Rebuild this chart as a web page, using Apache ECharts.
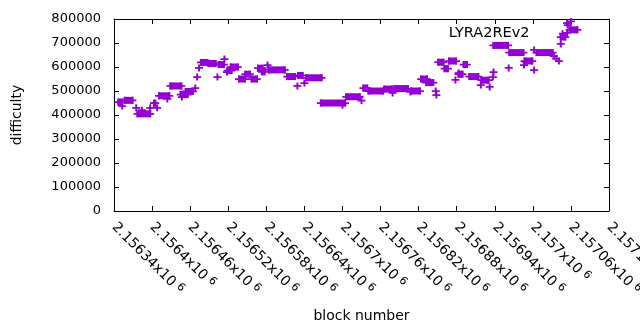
<!DOCTYPE html>
<html>
<head>
<meta charset="utf-8">
<script src="https://cdn.jsdelivr.net/npm/echarts@6/dist/echarts.min.js"></script>
<style>
html,body{margin:0;padding:0;background:#fff;}
#main{width:640px;height:330px;}
</style>
</head>
<body>
<div id="main"></div>
<script>
// 连续几个块难度不变的区段: 起始块, 结束块, 难度
var runStart = [2156347,2156357,2156377,2156403,2156411,2156429,2156445,2156453,2156477,2156489,2156505,2156519,2156524,2156537,2156547,2156557,2156567,2156573,2156584,2156613,2156630,2156643,2156666,2156706,2156733,2156741,2156766,2156782,2156808,2156824,2156832,2156851,2156861,2156868,2156883,2156891,2156900,2156919,2156938,2156963,2156987,2157006,2157044,2157058];
var runEnd   = [2156353,2156369,2156397,2156405,2156427,2156446,2156456,2156464,2156487,2156500,2156513,2156525,2156535,2156546,2156554,2156565,2156574,2156577,2156609,2156625,2156637,2156667,2156704,2156727,2156739,2156764,2156778,2156803,2156822,2156833,2156843,2156859,2156866,2156879,2156889,2156896,2156914,2156930,2156961,2156985,2156999,2157031,2157051,2157070];
var runDiff  = [454000,461000,405000,449000,480000,521000,485000,498000,619000,615000,610000,585000,600000,550000,570000,550000,595000,580000,588000,560000,565000,555000,450000,476000,512000,500000,508000,510000,500000,550000,535000,620000,593000,625000,570000,610000,560000,545000,690000,660000,625000,660000,725000,755000];

// 单独的点
var ptBlock = [2156353,2156375,2156384,2156397,2156408,2156424,2156447,2156468,2156471,2156474,2156503,2156514,2156518,2156582,2156629,2156640,2156700,2156730,2156779,2156807,2156847,2156848,2156878,2156883,2156918,2156932,2156937,2156938,2156962,2156986,2156989,2157002,2157002,2157033,2157037,2157041,2157044,2157054,2157054,2157055,2157060];
var ptDiff  = [437000,430000,420000,430000,430000,467000,475000,512000,558000,596000,558000,633000,579000,608000,521000,533000,441000,460000,492000,496000,500000,483000,546000,575000,525000,517000,558000,579000,596000,608000,621000,587000,671000,645000,635000,625000,696000,742000,783000,775000,790000];

var seriesName = 'LYRA2REv2';
var purple = '#9400d3';
var plusPath = 'path://M3,0h2v3h3v2h-3v3h-2v-3h-3v-2h3z';
var fontName = 'DejaVu Sans';

var runData = [];
var pointData = [];
for (var i = 0; i < runStart.length; i++) {
	runData.push([runStart[i], runEnd[i], runDiff[i]]);
	pointData.push([runStart[i], runDiff[i]]);
	pointData.push([runEnd[i], runDiff[i]]);
}
for (var j = 0; j < ptBlock.length; j++) {
	pointData.push([ptBlock[j], ptDiff[j]]);
}

// x轴刻度 2.15634x10^6 这种写法
function blockLabel(v) {
	var s = String(Math.round(v)).replace(/0+$/, '');
	return '{a|' + s.charAt(0) + '.' + s.slice(1) + 'x10}{s|6}';
}

var myChart = echarts.init(document.getElementById('main'), null, {renderer: 'canvas'});
var axisLine = {show: true, onZero: false, lineStyle: {color: '#000', width: 1}};
var axisTick = {show: true, inside: true, length: 5, lineStyle: {color: '#000', width: 1}};

var option = {
	animation: false,
	backgroundColor: '#fff',
	textStyle: {fontFamily: fontName},
	grid: {left: 114, right: 31, top: 19, bottom: 119, containLabel: false, outerBoundsMode: 'none'},
	legend: {
		data: [{name: seriesName, icon: plusPath, itemStyle: {color: purple}}],
		align: 'right',
		right: 69,
		top: 21,
		itemWidth: 8,
		itemHeight: 7,
		selectedMode: false,
		textStyle: {fontFamily: fontName, fontSize: 14.5, color: '#000', padding: [0, 24, 0, 0]}
	},
	xAxis: [{
		type: 'value',
		position: 'bottom',
		min: 2156340,
		max: 2157120,
		interval: 60,
		name: 'block number',
		nameLocation: 'middle',
		nameGap: 98,
		nameTextStyle: {fontFamily: fontName, fontSize: 14, color: '#000'},
		axisLine: axisLine,
		axisTick: axisTick,
		splitLine: {show: false},
		axisLabel: {
			rotate: -45,
			margin: 14,
			color: '#000',
			showMinLabel: true,
			showMaxLabel: true,
			hideOverlap: false,
			formatter: blockLabel,
			rich: {
				a: {fontFamily: fontName, fontSize: 14, color: '#000'},
				s: {fontFamily: fontName, fontSize: 11, color: '#000', padding: [0, 0, 6, 4]}
			}
		}
	}, {
		type: 'value',
		position: 'top',
		min: 2156340,
		max: 2157120,
		interval: 60,
		axisLine: axisLine,
		axisTick: axisTick,
		splitLine: {show: false},
		axisLabel: {show: false}
	}],
	yAxis: [{
		type: 'value',
		position: 'left',
		min: 0,
		max: 800000,
		interval: 100000,
		name: 'difficulty',
		nameLocation: 'middle',
		nameGap: 90,
		nameTextStyle: {fontFamily: fontName, fontSize: 14, color: '#000'},
		axisLine: axisLine,
		axisTick: axisTick,
		splitLine: {show: false},
		axisLabel: {
			margin: 13,
			color: '#000',
			fontFamily: fontName,
			fontSize: 13,
			formatter: function (v) { return String(v); }
		}
	}, {
		type: 'value',
		position: 'right',
		min: 0,
		max: 800000,
		interval: 100000,
		axisLine: axisLine,
		axisTick: axisTick,
		splitLine: {show: false},
		axisLabel: {show: false}
	}],
	series: [{
		name: seriesName,
		type: 'custom',
		xAxisIndex: 0,
		yAxisIndex: 0,
		encode: {x: [0, 1], y: 2},
		itemStyle: {color: purple},
		data: runData,
		renderItem: function (params, api) {
			var p1 = api.coord([api.value(0), api.value(2)]);
			var p2 = api.coord([api.value(1), api.value(2)]);
			return {
				type: 'rect',
				shape: {x: p1[0] - 1, y: p1[1] - 3.5, width: p2[0] - p1[0] + 2, height: 7},
				style: {fill: purple}
			};
		}
	}, {
		name: seriesName,
		type: 'scatter',
		xAxisIndex: 0,
		yAxisIndex: 0,
		symbol: plusPath,
		symbolSize: [8, 7],
		itemStyle: {color: purple, opacity: 1},
		data: pointData
	}]
};
myChart.setOption(option);
</script>
</body>
</html>
